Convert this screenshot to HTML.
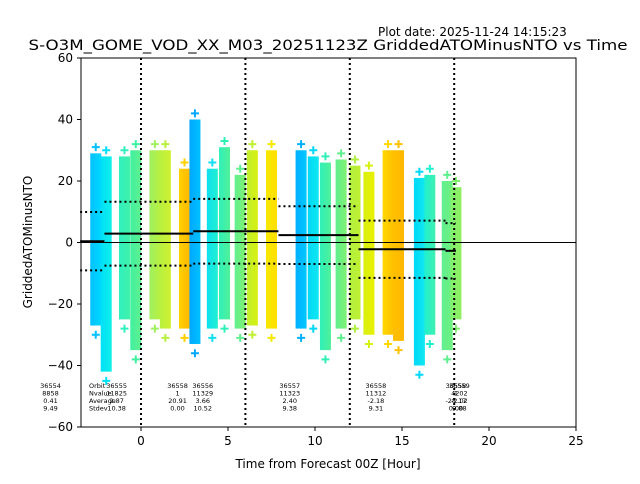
<!DOCTYPE html>
<html><head><meta charset="utf-8"><style>
body{margin:0;background:#fff;width:640px;height:480px;overflow:hidden;font-family:"DejaVu Sans","Liberation Sans",sans-serif}
</style></head><body>
<svg id="c" width="640" height="480" xmlns="http://www.w3.org/2000/svg" font-family="DejaVu Sans, Liberation Sans, sans-serif">
<defs id="defs"></defs>
<text x="378" y="36" font-size="12">Plot date: 2025-11-24 14:15:23</text>
<text x="328" y="50" font-size="14.5" text-anchor="middle" textLength="599" lengthAdjust="spacingAndGlyphs">S-O3M_GOME_VOD_XX_M03_20251123Z GriddedATOMinusNTO vs Time</text>
<g id="plot"></g>
<rect x="81" y="58" width="495" height="369" fill="none" stroke="#000" stroke-width="1"/>
<text x="328" y="468" font-size="12" text-anchor="middle">Time from Forecast 00Z [Hour]</text>
<text x="32" y="242" font-size="12" text-anchor="middle" transform="rotate(-90 32 242)">GriddedATOMinusNTO</text>
</svg>
<script>
const xTicks=[0,5,10,15,20,25];
const yTicks=[-60,-40,-20,0,20,40,60];
const stripX=[-2.6,-2.0,-0.95,-0.3,0.8,1.4,2.5,3.1,4.1,4.8,5.7,6.4,7.5,9.2,9.9,10.6,11.5,12.3,13.1,14.2,14.8,16.0,16.6,17.6,18.1];
const stripTop=[29,28,28,30,30,30,24,40,24,31,22,30,30,30,28,26,27,25,23,30,30,21,22,20,18];
const stripBottom=[-27,-42,-25,-35,-25,-28,-28,-33,-28,-25,-28,-27,-28,-28,-25,-35,-28,-25,-30,-30,-32,-40,-30,-35,-25];
const stripC1=["#00c0ff","#00e0f8","#30f0c0","#40f0a0","#a0f060","#b8f040","#ffd000","#00a8ff","#10e0f0","#30f0b8","#60f090","#c0f030","#f8e800","#00b0ff","#00d8f8","#30f0b8","#60f090","#b0f040","#d8f010","#ffd800","#ffc000","#00d8f8","#20f0d0","#60f090","#80f070"];
const stripC2=["#00d8ff","#10f0e8","#40f0a8","#60f090","#b8f040","#d0f030","#ffb800","#00c0ff","#20f0d0","#50f098","#80f070","#d8f010","#ffe000","#00c8ff","#10e8f0","#50f098","#80f070","#c0f030","#e8f000","#ffc000","#ffb800","#10e8f0","#40f0b0","#70f080","#90f060"];
const segStart=[-3.5,-2.1,3.0,7.9,12.5,17.5];
const segEnd=[-2.1,3.0,7.9,12.5,17.5,18.1];
const segAvg=[0.41,2.87,3.66,2.40,-2.18,-2.7];
const segStd=[9.49,10.38,10.52,9.38,9.31,9.0];
const annotX=[-5.2,-1.4,2.1,3.55,8.55,13.5,18.1,18.3];
const annotL1=["36554","36555","36558","36556","36557","36558","36558","36559"];
const annotL2=["8858","11825","1","11329","11323","11312","1","4202"];
const annotL3=["0.41","2.87","20.91","3.66","2.40","-2.18","-28.17","-2.02"];
const annotL4=["9.49","10.38","0.00","10.52","9.38","9.31","0.00","9.88"];
const vLines=[0,6,12,18];
const ns="http://www.w3.org/2000/svg";
const X=v=>141+v*17.4, Y=v=>242.5-v*3.075;
const g=document.getElementById('plot'), defs=document.getElementById('defs');
function mk(t,a,p){const e=document.createElementNS(ns,t);for(const k in a)e.setAttribute(k,a[k]);(p||g).appendChild(e);return e;}
stripX.forEach((x,i)=>{
 const lg=mk('linearGradient',{id:'g'+i,x1:'0',x2:'1',y1:'0',y2:'0'},defs);
 mk('stop',{offset:'0','stop-color':stripC1[i]},lg);mk('stop',{offset:'1','stop-color':stripC2[i]},lg);
 const r=mk('rect',{x:X(x)-5.5,y:Y(stripTop[i]),width:11,height:Y(stripBottom[i])-Y(stripTop[i]),fill:'url(#g'+i+')'});
 
 
 [stripTop[i]+2,stripBottom[i]-3].forEach(v=>{
  const p=mk('path',{d:`M${X(x)-4} ${Y(v)}h8M${X(x)} ${Y(v)-4}v8`,stroke:stripC1[i],'stroke-width':2});
  
  
 });
});
const z=mk('line',{x1:81,x2:576,y1:Y(0),y2:Y(0),stroke:'#000','stroke-width':1});


vLines.forEach(v=>{const l=mk('line',{x1:X(v),x2:X(v),y1:58,y2:427,stroke:'#000','stroke-width':2,'stroke-dasharray':'2,3'});
 
 });
segStart.forEach((s,i)=>{
 const a=mk('line',{x1:X(s),x2:X(segEnd[i]),y1:Y(segAvg[i]),y2:Y(segAvg[i]),stroke:'#000','stroke-width':2});
 
 
 [1,-1].forEach(sg=>{const d=mk('line',{x1:X(s),x2:X(segEnd[i]),y1:Y(segAvg[i]+sg*segStd[i]),y2:Y(segAvg[i]+sg*segStd[i]),stroke:'#000','stroke-width':2,'stroke-dasharray':'2,3'});
  
  });
});
const svg=document.getElementById('c');
const tx=mk('text',{x:89,y:388,'font-size':6.5},svg);tx.textContent='Orbit';

['Nvalue','Average','Stdev'].forEach((t,i)=>{const e=mk('text',{x:89,y:395.5+i*7.5,'font-size':6.5},svg);e.textContent=t;
 });
annotX.forEach((x,i)=>{[annotL1,annotL2,annotL3,annotL4].forEach((arr,j)=>{
 const e=mk('text',{x:X(x),y:388+j*7.5,'font-size':6.5,'text-anchor':'middle'},svg);e.textContent=arr[i];
 });});
xTicks.forEach(v=>{mk('line',{x1:X(v),x2:X(v),y1:427,y2:431,stroke:'#000'});
 const t=mk('text',{x:X(v),y:445,'font-size':12,'text-anchor':'middle'});t.textContent=v;
 });
yTicks.forEach(v=>{mk('line',{x1:77,x2:81,y1:Y(v),y2:Y(v),stroke:'#000'});
 const t=mk('text',{x:73,y:Y(v)+4,'font-size':12,'text-anchor':'end'});t.textContent=v==0?'0':(v<0?'\u2212'+(-v):v);
 });
</script>
</body></html>
